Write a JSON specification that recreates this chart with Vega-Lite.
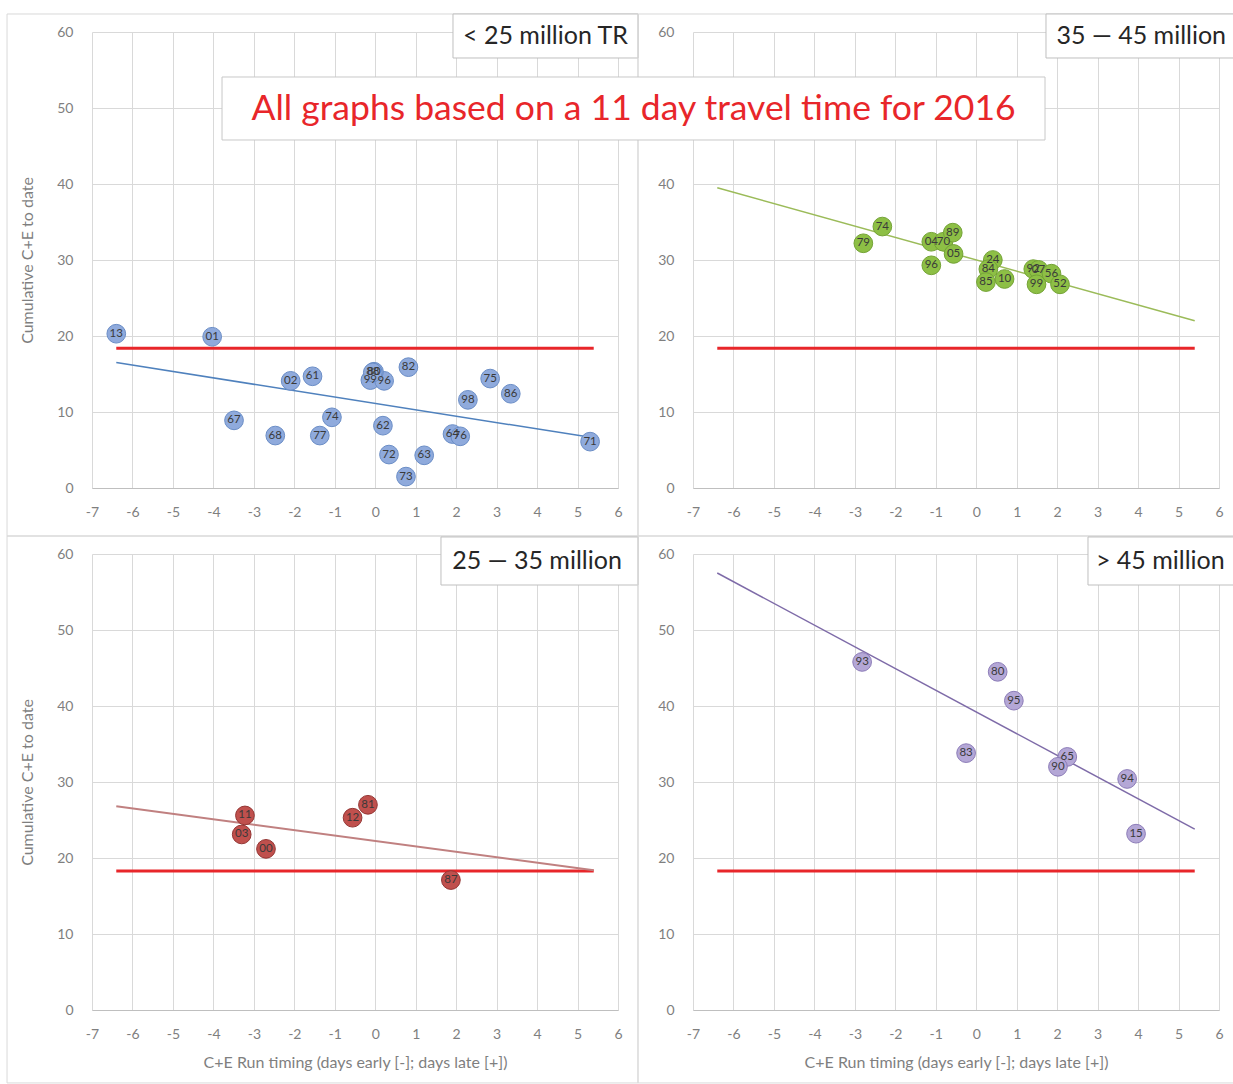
{
  "$schema": "https://vega.github.io/schema/vega-lite/v6.json",
  "background": "white",
  "padding": {"left": 6, "top": 13, "right": 0, "bottom": 0},
  "columns": 2,
  "spacing": {"row": 66, "column": 75},
  "bounds": "flush",
  "config": {
    "view": {"stroke": null},
    "font": "Lato",
    "axis": {
      "labelFont": "Lato", "labelFontSize": 14, "labelColor": "#7F7F7F",
      "titleFont": "Lato", "titleFontSize": 16, "titleFontWeight": "normal", "titleColor": "#7F7F7F",
      "grid": true, "gridColor": "#D9D9D9", "gridWidth": 1,
      "ticks": false, "domain": false, "labelFlush": false, "labelOverlap": false,
      "labelExpr": "'' + datum.value"
    }
  },
  "datasets": {
    "points": [
      {"panel": "TL", "label": "13", "x": -6.4, "y": 20.3},
      {"panel": "TL", "label": "01", "x": -4.03, "y": 19.9},
      {"panel": "TL", "label": "02", "x": -2.09, "y": 14.1},
      {"panel": "TL", "label": "61", "x": -1.55, "y": 14.7},
      {"panel": "TL", "label": "67", "x": -3.49, "y": 8.9},
      {"panel": "TL", "label": "68", "x": -2.47, "y": 6.9},
      {"panel": "TL", "label": "74", "x": -1.07, "y": 9.3},
      {"panel": "TL", "label": "77", "x": -1.37, "y": 6.9},
      {"panel": "TL", "label": "99", "x": -0.12, "y": 14.2},
      {"panel": "TL", "label": "96", "x": 0.22, "y": 14.1},
      {"panel": "TL", "label": "80", "x": -0.03, "y": 15.3},
      {"panel": "TL", "label": "88", "x": -0.06, "y": 15.2},
      {"panel": "TL", "label": "82", "x": 0.82, "y": 15.9},
      {"panel": "TL", "label": "62", "x": 0.19, "y": 8.2},
      {"panel": "TL", "label": "72", "x": 0.34, "y": 4.4},
      {"panel": "TL", "label": "63", "x": 1.21, "y": 4.3},
      {"panel": "TL", "label": "73", "x": 0.76, "y": 1.5},
      {"panel": "TL", "label": "64", "x": 1.91, "y": 7.1},
      {"panel": "TL", "label": "76", "x": 2.1, "y": 6.8},
      {"panel": "TL", "label": "98", "x": 2.29, "y": 11.6},
      {"panel": "TL", "label": "75", "x": 2.84, "y": 14.4},
      {"panel": "TL", "label": "86", "x": 3.35, "y": 12.4},
      {"panel": "TL", "label": "71", "x": 5.31, "y": 6.1},
      {"panel": "TR", "label": "79", "x": -2.79, "y": 32.2},
      {"panel": "TR", "label": "74", "x": -2.32, "y": 34.4},
      {"panel": "TR", "label": "04", "x": -1.11, "y": 32.4},
      {"panel": "TR", "label": "70", "x": -0.81, "y": 32.4},
      {"panel": "TR", "label": "89", "x": -0.58, "y": 33.6},
      {"panel": "TR", "label": "05", "x": -0.56, "y": 30.8},
      {"panel": "TR", "label": "96", "x": -1.11, "y": 29.3},
      {"panel": "TR", "label": "24", "x": 0.41, "y": 30.0},
      {"panel": "TR", "label": "84", "x": 0.3, "y": 28.8},
      {"panel": "TR", "label": "85", "x": 0.24, "y": 27.1},
      {"panel": "TR", "label": "10", "x": 0.7, "y": 27.5},
      {"panel": "TR", "label": "92", "x": 1.41, "y": 28.8},
      {"panel": "TR", "label": "07", "x": 1.54, "y": 28.7},
      {"panel": "TR", "label": "99", "x": 1.49, "y": 26.8},
      {"panel": "TR", "label": "56", "x": 1.86, "y": 28.2},
      {"panel": "TR", "label": "52", "x": 2.07, "y": 26.8},
      {"panel": "BL", "label": "11", "x": -3.22, "y": 25.6},
      {"panel": "BL", "label": "03", "x": -3.3, "y": 23.1},
      {"panel": "BL", "label": "00", "x": -2.7, "y": 21.2},
      {"panel": "BL", "label": "12", "x": -0.56, "y": 25.3},
      {"panel": "BL", "label": "81", "x": -0.18, "y": 27.0},
      {"panel": "BL", "label": "87", "x": 1.87, "y": 17.1},
      {"panel": "BR", "label": "93", "x": -2.82, "y": 45.8},
      {"panel": "BR", "label": "80", "x": 0.53, "y": 44.5},
      {"panel": "BR", "label": "95", "x": 0.93, "y": 40.7},
      {"panel": "BR", "label": "83", "x": -0.25, "y": 33.8},
      {"panel": "BR", "label": "65", "x": 2.25, "y": 33.3},
      {"panel": "BR", "label": "90", "x": 2.02, "y": 32.0},
      {"panel": "BR", "label": "94", "x": 3.73, "y": 30.4},
      {"panel": "BR", "label": "15", "x": 3.95, "y": 23.2}
    ],
    "lines": [
      {"panel": "TL", "series": "threshold", "x": -6.4, "y": 18.4},
      {"panel": "TL", "series": "threshold", "x": 5.4, "y": 18.4},
      {"panel": "TL", "series": "trend", "x": -6.4, "y": 16.5},
      {"panel": "TL", "series": "trend", "x": 5.4, "y": 6.6},
      {"panel": "TR", "series": "threshold", "x": -6.4, "y": 18.4},
      {"panel": "TR", "series": "threshold", "x": 5.4, "y": 18.4},
      {"panel": "TR", "series": "trend", "x": -6.4, "y": 39.5},
      {"panel": "TR", "series": "trend", "x": 5.4, "y": 22.0},
      {"panel": "BL", "series": "threshold", "x": -6.4, "y": 18.3},
      {"panel": "BL", "series": "threshold", "x": 5.4, "y": 18.3},
      {"panel": "BL", "series": "trend", "x": -6.4, "y": 26.8},
      {"panel": "BL", "series": "trend", "x": 5.4, "y": 18.4},
      {"panel": "BR", "series": "threshold", "x": -6.4, "y": 18.3},
      {"panel": "BR", "series": "threshold", "x": 5.4, "y": 18.3},
      {"panel": "BR", "series": "trend", "x": -6.4, "y": 57.5},
      {"panel": "BR", "series": "trend", "x": 5.4, "y": 23.8}
    ],
    "boxes": [
      {"panel": "TL", "kind": "frame", "x": -9.1, "x2": 6.494, "y": 62.37, "y2": -6.32},
      {"panel": "TR", "kind": "frame", "x": -8.36, "x2": 6.67, "y": 62.37, "y2": -6.32},
      {"panel": "BL", "kind": "frame", "x": -9.1, "x2": 6.494, "y": 62.37, "y2": -9.6},
      {"panel": "BR", "kind": "frame", "x": -8.36, "x2": 6.67, "y": 62.37, "y2": -9.6},
      {"panel": "TL", "kind": "tag", "x": 1.922, "x2": 6.494, "y": 62.37, "y2": 56.58},
      {"panel": "TR", "kind": "tag", "x": 1.724, "x2": 6.67, "y": 62.37, "y2": 56.58},
      {"panel": "BL", "kind": "tag", "x": 1.625, "x2": 6.494, "y": 62.24, "y2": 55.92},
      {"panel": "BR", "kind": "tag", "x": 2.762, "x2": 6.67, "y": 62.24, "y2": 55.92},
      {"panel": "TR", "kind": "title", "x": -18.64, "x2": 1.7, "y": 54.08, "y2": 45.79}
    ],
    "texts": [
      {"panel": "TL", "kind": "tag", "text": "< 25 million TR", "x": 4.208, "y": 59.47},
      {"panel": "TR", "kind": "tag", "text": "35 — 45 million", "x": 4.08, "y": 59.47},
      {"panel": "BL", "kind": "tag", "text": "25 — 35 million", "x": 4.0, "y": 59.08},
      {"panel": "BR", "kind": "tag", "text": "> 45 million", "x": 4.55, "y": 59.08},
      {"panel": "TR", "kind": "title", "text": "All graphs based on a 11 day travel time for 2016", "x": -8.47, "y": 49.87}
    ]
  },
  "concat": [
    {
      "width": 526, "height": 456,
      "encoding": {
        "x": {"field": "x", "type": "quantitative", "scale": {"domain": [-7, 6], "nice": false, "zero": false},
              "axis": {"values": [-7, -6, -5, -4, -3, -2, -1, 0, 1, 2, 3, 4, 5, 6], "title": null, "labelPadding": 17, "domain": true, "domainColor": "#BFBFBF"}},
        "y": {"field": "y", "type": "quantitative", "scale": {"domain": [0, 60], "nice": false, "zero": false},
              "axis": {"values": [0, 10, 20, 30, 40, 50, 60], "title": "Cumulative C+E to date", "labelPadding": 19, "titlePadding": 21}}
      },
      "layer": [
        {"data": {"name": "boxes"}, "transform": [{"filter": "datum.panel === 'TL' && datum.kind === 'frame'"}],
         "mark": {"type": "rect", "fillOpacity": 0, "stroke": "#D9D9D9", "strokeWidth": 1},
         "encoding": {"x2": {"field": "x2"}, "y2": {"field": "y2"}}},
        {"data": {"name": "lines"}, "transform": [{"filter": "datum.panel === 'TL' && datum.series === 'threshold'"}],
         "mark": {"type": "line", "color": "#E8262A", "strokeWidth": 3}, "encoding": {}},
        {"data": {"name": "lines"}, "transform": [{"filter": "datum.panel === 'TL' && datum.series === 'trend'"}],
         "mark": {"type": "line", "color": "#4F81BD", "strokeWidth": 1.5}, "encoding": {}},
        {"data": {"name": "points"}, "transform": [{"filter": "datum.panel === 'TL'"}],
         "mark": {"type": "circle", "size": 350, "opacity": 1, "fill": "#8FAADC", "stroke": "#6A8DC6", "strokeWidth": 1}, "encoding": {}},
        {"data": {"name": "points"}, "transform": [{"filter": "datum.panel === 'TL'"}],
         "mark": {"type": "text", "fontSize": 11.5, "color": "#3A3A3A", "font": "Lato"}, "encoding": {"text": {"field": "label"}}},
        {"data": {"name": "boxes"}, "transform": [{"filter": "datum.panel === 'TL' && datum.kind === 'tag'"}],
         "mark": {"type": "rect", "fill": "white", "stroke": "#BFBFBF", "strokeWidth": 1},
         "encoding": {"x2": {"field": "x2"}, "y2": {"field": "y2"}}},
        {"data": {"name": "texts"}, "transform": [{"filter": "datum.panel === 'TL'"}],
         "mark": {"type": "text", "fontSize": 25, "color": "#262626", "font": "Lato"}, "encoding": {"text": {"field": "text"}}}
      ]
    },
    {
      "width": 526, "height": 456,
      "encoding": {
        "x": {"field": "x", "type": "quantitative", "scale": {"domain": [-7, 6], "nice": false, "zero": false},
              "axis": {"values": [-7, -6, -5, -4, -3, -2, -1, 0, 1, 2, 3, 4, 5, 6], "title": null, "labelPadding": 17, "domain": true, "domainColor": "#BFBFBF"}},
        "y": {"field": "y", "type": "quantitative", "scale": {"domain": [0, 60], "nice": false, "zero": false},
              "axis": {"values": [0, 10, 20, 30, 40, 50, 60], "title": null, "labelPadding": 19}}
      },
      "layer": [
        {"data": {"name": "boxes"}, "transform": [{"filter": "datum.panel === 'TR' && datum.kind === 'frame'"}],
         "mark": {"type": "rect", "fillOpacity": 0, "stroke": "#D9D9D9", "strokeWidth": 1},
         "encoding": {"x2": {"field": "x2"}, "y2": {"field": "y2"}}},
        {"data": {"name": "lines"}, "transform": [{"filter": "datum.panel === 'TR' && datum.series === 'threshold'"}],
         "mark": {"type": "line", "color": "#E8262A", "strokeWidth": 3}, "encoding": {}},
        {"data": {"name": "lines"}, "transform": [{"filter": "datum.panel === 'TR' && datum.series === 'trend'"}],
         "mark": {"type": "line", "color": "#9BBB59", "strokeWidth": 1.5}, "encoding": {}},
        {"data": {"name": "points"}, "transform": [{"filter": "datum.panel === 'TR'"}],
         "mark": {"type": "circle", "size": 350, "opacity": 1, "fill": "#8DBF45", "stroke": "#74A336", "strokeWidth": 1}, "encoding": {}},
        {"data": {"name": "points"}, "transform": [{"filter": "datum.panel === 'TR'"}],
         "mark": {"type": "text", "fontSize": 11.5, "color": "#3A3A3A", "font": "Lato"}, "encoding": {"text": {"field": "label"}}},
        {"data": {"name": "boxes"}, "transform": [{"filter": "datum.panel === 'TR' && datum.kind === 'tag'"}],
         "mark": {"type": "rect", "fill": "white", "stroke": "#BFBFBF", "strokeWidth": 1},
         "encoding": {"x2": {"field": "x2"}, "y2": {"field": "y2"}}},
        {"data": {"name": "texts"}, "transform": [{"filter": "datum.panel === 'TR' && datum.kind === 'tag'"}],
         "mark": {"type": "text", "fontSize": 25, "color": "#262626", "font": "Lato"}, "encoding": {"text": {"field": "text"}}},
        {"data": {"name": "boxes"}, "transform": [{"filter": "datum.panel === 'TR' && datum.kind === 'title'"}],
         "mark": {"type": "rect", "fill": "white", "stroke": "#C8C8C8", "strokeWidth": 1},
         "encoding": {"x2": {"field": "x2"}, "y2": {"field": "y2"}}},
        {"data": {"name": "texts"}, "transform": [{"filter": "datum.panel === 'TR' && datum.kind === 'title'"}],
         "mark": {"type": "text", "fontSize": 35.5, "color": "#E8262A", "font": "Lato"}, "encoding": {"text": {"field": "text"}}}
      ]
    },
    {
      "width": 526, "height": 456,
      "encoding": {
        "x": {"field": "x", "type": "quantitative", "scale": {"domain": [-7, 6], "nice": false, "zero": false},
              "axis": {"values": [-7, -6, -5, -4, -3, -2, -1, 0, 1, 2, 3, 4, 5, 6], "title": "C+E Run timing (days early [-]; days late [+])", "labelPadding": 17, "titlePadding": 13, "domain": true, "domainColor": "#BFBFBF"}},
        "y": {"field": "y", "type": "quantitative", "scale": {"domain": [0, 60], "nice": false, "zero": false},
              "axis": {"values": [0, 10, 20, 30, 40, 50, 60], "title": "Cumulative C+E to date", "labelPadding": 19, "titlePadding": 21}}
      },
      "layer": [
        {"data": {"name": "boxes"}, "transform": [{"filter": "datum.panel === 'BL' && datum.kind === 'frame'"}],
         "mark": {"type": "rect", "fillOpacity": 0, "stroke": "#D9D9D9", "strokeWidth": 1},
         "encoding": {"x2": {"field": "x2"}, "y2": {"field": "y2"}}},
        {"data": {"name": "lines"}, "transform": [{"filter": "datum.panel === 'BL' && datum.series === 'threshold'"}],
         "mark": {"type": "line", "color": "#E8262A", "strokeWidth": 3}, "encoding": {}},
        {"data": {"name": "lines"}, "transform": [{"filter": "datum.panel === 'BL' && datum.series === 'trend'"}],
         "mark": {"type": "line", "color": "#C08080", "strokeWidth": 2}, "encoding": {}},
        {"data": {"name": "points"}, "transform": [{"filter": "datum.panel === 'BL'"}],
         "mark": {"type": "circle", "size": 350, "opacity": 1, "fill": "#C0504D", "stroke": "#943634", "strokeWidth": 1}, "encoding": {}},
        {"data": {"name": "points"}, "transform": [{"filter": "datum.panel === 'BL'"}],
         "mark": {"type": "text", "fontSize": 11.5, "color": "#3A3A3A", "font": "Lato"}, "encoding": {"text": {"field": "label"}}},
        {"data": {"name": "boxes"}, "transform": [{"filter": "datum.panel === 'BL' && datum.kind === 'tag'"}],
         "mark": {"type": "rect", "fill": "white", "stroke": "#BFBFBF", "strokeWidth": 1},
         "encoding": {"x2": {"field": "x2"}, "y2": {"field": "y2"}}},
        {"data": {"name": "texts"}, "transform": [{"filter": "datum.panel === 'BL'"}],
         "mark": {"type": "text", "fontSize": 25, "color": "#262626", "font": "Lato"}, "encoding": {"text": {"field": "text"}}}
      ]
    },
    {
      "width": 526, "height": 456,
      "encoding": {
        "x": {"field": "x", "type": "quantitative", "scale": {"domain": [-7, 6], "nice": false, "zero": false},
              "axis": {"values": [-7, -6, -5, -4, -3, -2, -1, 0, 1, 2, 3, 4, 5, 6], "title": "C+E Run timing (days early [-]; days late [+])", "labelPadding": 17, "titlePadding": 13, "domain": true, "domainColor": "#BFBFBF"}},
        "y": {"field": "y", "type": "quantitative", "scale": {"domain": [0, 60], "nice": false, "zero": false},
              "axis": {"values": [0, 10, 20, 30, 40, 50, 60], "title": null, "labelPadding": 19}}
      },
      "layer": [
        {"data": {"name": "boxes"}, "transform": [{"filter": "datum.panel === 'BR' && datum.kind === 'frame'"}],
         "mark": {"type": "rect", "fillOpacity": 0, "stroke": "#D9D9D9", "strokeWidth": 1},
         "encoding": {"x2": {"field": "x2"}, "y2": {"field": "y2"}}},
        {"data": {"name": "lines"}, "transform": [{"filter": "datum.panel === 'BR' && datum.series === 'threshold'"}],
         "mark": {"type": "line", "color": "#E8262A", "strokeWidth": 3}, "encoding": {}},
        {"data": {"name": "lines"}, "transform": [{"filter": "datum.panel === 'BR' && datum.series === 'trend'"}],
         "mark": {"type": "line", "color": "#7E6BA8", "strokeWidth": 1.5}, "encoding": {}},
        {"data": {"name": "points"}, "transform": [{"filter": "datum.panel === 'BR'"}],
         "mark": {"type": "circle", "size": 350, "opacity": 1, "fill": "#B4A7D6", "stroke": "#8C7CB8", "strokeWidth": 1}, "encoding": {}},
        {"data": {"name": "points"}, "transform": [{"filter": "datum.panel === 'BR'"}],
         "mark": {"type": "text", "fontSize": 11.5, "color": "#3A3A3A", "font": "Lato"}, "encoding": {"text": {"field": "label"}}},
        {"data": {"name": "boxes"}, "transform": [{"filter": "datum.panel === 'BR' && datum.kind === 'tag'"}],
         "mark": {"type": "rect", "fill": "white", "stroke": "#BFBFBF", "strokeWidth": 1},
         "encoding": {"x2": {"field": "x2"}, "y2": {"field": "y2"}}},
        {"data": {"name": "texts"}, "transform": [{"filter": "datum.panel === 'BR'"}],
         "mark": {"type": "text", "fontSize": 25, "color": "#262626", "font": "Lato"}, "encoding": {"text": {"field": "text"}}}
      ]
    }
  ]
}
